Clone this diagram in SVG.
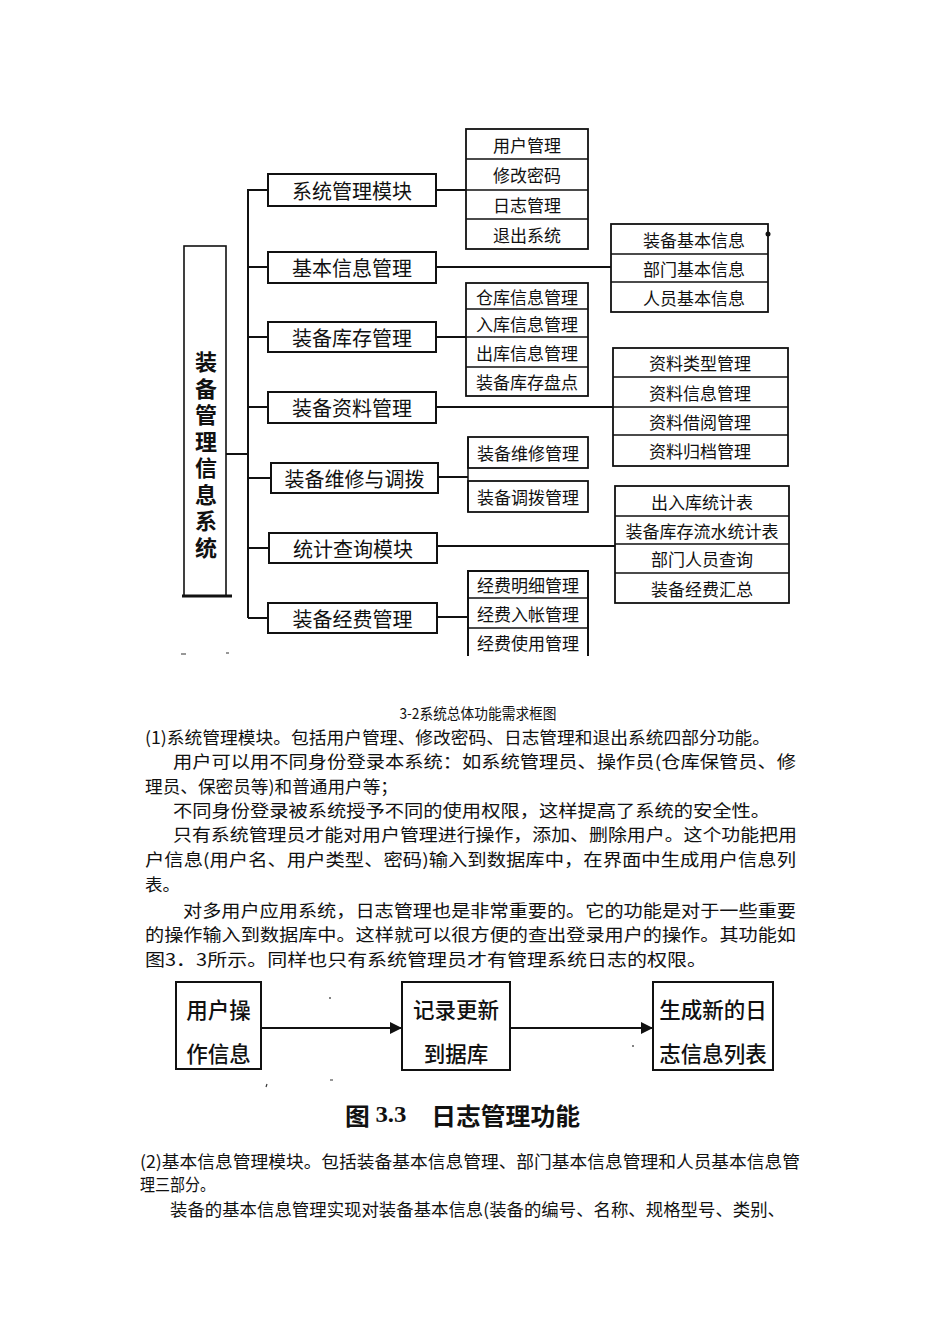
<svg xmlns="http://www.w3.org/2000/svg" width="950" height="1344" viewBox="0 0 950 1344">
<style>
text{font-family:"Noto Sans CJK SC","Noto Sans",sans-serif;fill:#111}
.box{fill:#fff;stroke:#111;stroke-width:2}
.cb{fill:#fff;stroke:#111;stroke-width:1.8}
.dv{stroke:#111;stroke-width:1.5}
.ln{fill:none;stroke:#111;stroke-width:2}
.m{font-size:20px;text-anchor:middle;dominant-baseline:central}
.c{font-size:17px;text-anchor:middle;dominant-baseline:central}
.p{font-size:17px;dominant-baseline:central}
.f{font-size:21.5px;font-weight:500;text-anchor:middle;dominant-baseline:central}
</style>
<defs>
<marker id="ah" markerWidth="12" markerHeight="12" refX="11" refY="6" orient="auto" markerUnits="userSpaceOnUse">
<path d="M0,0 L12,6 L0,12 Z" fill="#111"/>
</marker>
</defs>
<rect width="950" height="1344" fill="#fff"/>

<!-- Figure 3-2 -->
<g id="connectors">
<path class="ln" d="M226 454 H248 M248 189 V618 M248 190 H268 M248 267 H268 M248 337 H268 M248 407 H268 M248 478 H271 M248 548 H269 M248 618 H268"/>
<path class="ln" d="M436 190 H466 M436 267 H611 M436 337 H466 M436 407 H613 M438 477 H468 M437 546 H615 M437 617 H468"/>
</g>

<g id="root">
<rect x="184" y="246" width="42" height="350" fill="#fff" stroke="#111" stroke-width="1.6"/>
<path d="M182 596 H232" stroke="#111" stroke-width="3"/>
<text x="206" y="351" font-size="22" font-weight="bold" writing-mode="tb" letter-spacing="4.5">装备管理信息系统</text>
</g>

<g id="m1"><rect class="box" x="268" y="174" width="168" height="32"/><text class="m" x="352" y="190">系统管理模块</text></g>
<g id="m2"><rect class="box" x="268" y="252" width="168" height="31"/><text class="m" x="352" y="267.5">基本信息管理</text></g>
<g id="m3"><rect class="box" x="268" y="322" width="168" height="30"/><text class="m" x="352" y="337">装备库存管理</text></g>
<g id="m4"><rect class="box" x="268" y="392" width="168" height="31"/><text class="m" x="352" y="407.5">装备资料管理</text></g>
<g id="m5"><rect class="box" x="271" y="463" width="167" height="30"/><text class="m" x="354.5" y="478">装备维修与调拨</text></g>
<g id="m6"><rect class="box" x="269" y="533" width="168" height="30"/><text class="m" x="353" y="548">统计查询模块</text></g>
<g id="m7"><rect class="box" x="268" y="603" width="169" height="30"/><text class="m" x="352.5" y="618">装备经费管理</text></g>

<g id="c1">
<rect class="cb" x="466" y="129" width="122" height="120"/>
<path class="dv" d="M466 159 H588 M466 190 H588 M466 219 H588"/>
<text class="c" x="527" y="144">用户管理</text>
<text class="c" x="527" y="174.5">修改密码</text>
<text class="c" x="527" y="204.5">日志管理</text>
<text class="c" x="527" y="234">退出系统</text>
</g>
<g id="c2">
<rect class="cb" x="611" y="224" width="157" height="88"/>
<path class="dv" d="M611 254 H768 M611 282 H768"/>
<text class="c" x="694" y="239">装备基本信息</text>
<text class="c" x="694" y="268">部门基本信息</text>
<text class="c" x="694" y="297">人员基本信息</text>
<circle cx="768" cy="234" r="2.5" fill="#111"/>
</g>
<g id="c3">
<rect class="cb" x="466" y="283" width="122" height="113"/>
<path class="dv" d="M466 309 H588 M466 337 H588 M466 367 H588"/>
<text class="c" x="527" y="296">仓库信息管理</text>
<text class="c" x="527" y="323">入库信息管理</text>
<text class="c" x="527" y="352">出库信息管理</text>
<text class="c" x="527" y="381.5">装备库存盘点</text>
</g>
<g id="c4">
<rect class="cb" x="613" y="348" width="175" height="118"/>
<path class="dv" d="M613 377 H788 M613 407 H788 M613 435 H788"/>
<text class="c" x="700" y="362.5">资料类型管理</text>
<text class="c" x="700" y="392">资料信息管理</text>
<text class="c" x="700" y="421">资料借阅管理</text>
<text class="c" x="700" y="450.5">资料归档管理</text>
</g>
<g id="c5">
<rect class="cb" x="468" y="437" width="120" height="31"/>
<rect class="cb" x="468" y="481" width="120" height="31" stroke-width="2.2"/>
<path class="dv" d="M468 437 V512"/>
<text class="c" x="528" y="452.5">装备维修管理</text>
<text class="c" x="528" y="496.5">装备调拨管理</text>
</g>
<g id="c6">
<rect class="cb" x="615" y="486" width="174" height="117"/>
<path class="dv" d="M615 516 H789 M615 544 H789 M615 573 H789"/>
<text class="c" x="702" y="501">出入库统计表</text>
<text class="c" x="702" y="530">装备库存流水统计表</text>
<text class="c" x="702" y="558.5">部门人员查询</text>
<text class="c" x="702" y="588">装备经费汇总</text>
</g>
<g id="c7">
<path class="ln" d="M468 656 V571 H588 V656"/>
<path class="dv" d="M468 598 H588 M468 628 H588"/>
<text class="c" x="528" y="584.5">经费明细管理</text>
<text class="c" x="528" y="613">经费入帐管理</text>
<text class="c" x="528" y="642">经费使用管理</text>
</g>
<path d="M181 654 h5 M226 653 h3" stroke="#333" stroke-width="1.2"/>

<!-- Caption and body text -->
<text x="478" y="712" font-size="15" text-anchor="middle" dominant-baseline="central" textLength="157" lengthAdjust="spacingAndGlyphs">3-2系统总体功能需求框图</text>
<g id="body1">
<text class="p" x="145" y="736" textLength="625" lengthAdjust="spacingAndGlyphs">(1)系统管理模块。包括用户管理、修改密码、日志管理和退出系统四部分功能。</text>
<text class="p" x="173" y="760.5" textLength="623" lengthAdjust="spacingAndGlyphs">用户可以用不同身份登录本系统：如系统管理员、操作员(仓库保管员、修</text>
<text class="p" x="145" y="785" textLength="253" lengthAdjust="spacingAndGlyphs">理员、保密员等)和普通用户等；</text>
<text class="p" x="173" y="809" textLength="597" lengthAdjust="spacingAndGlyphs">不同身份登录被系统授予不同的使用权限，这样提高了系统的安全性。</text>
<text class="p" x="173" y="833.5" textLength="624" lengthAdjust="spacingAndGlyphs">只有系统管理员才能对用户管理进行操作，添加、删除用户。这个功能把用</text>
<text class="p" x="145" y="858" textLength="651" lengthAdjust="spacingAndGlyphs">户信息(用户名、用户类型、密码)输入到数据库中，在界面中生成用户信息列</text>
<text class="p" x="145" y="883" textLength="35" lengthAdjust="spacingAndGlyphs">表。</text>
<text class="p" x="183" y="909" textLength="613" lengthAdjust="spacingAndGlyphs">对多用户应用系统，日志管理也是非常重要的。它的功能是对于一些重要</text>
<text class="p" x="145" y="933.5" textLength="651" lengthAdjust="spacingAndGlyphs">的操作输入到数据库中。这样就可以很方便的查出登录用户的操作。其功能如</text>
<text class="p" x="145" y="958" textLength="562" lengthAdjust="spacingAndGlyphs">图3．3所示。同样也只有系统管理员才有管理系统日志的权限。</text>
</g>

<!-- Figure 3.3 -->
<g id="flow-connectors">
<path class="ln" d="M261 1028 H401" stroke-width="2.5" marker-end="url(#ah)"/>
<path class="ln" d="M510 1028 H652" stroke-width="2.5" marker-end="url(#ah)"/>
</g>
<g id="f1"><rect class="box" x="176" y="982" width="85" height="87" stroke-width="2.4"/><text class="f" x="218.5" y="1008">用户操</text><text class="f" x="218.5" y="1052">作信息</text></g>
<g id="f2"><rect class="box" x="402" y="982" width="108" height="88" stroke-width="2.4"/><text class="f" x="456" y="1008">记录更新</text><text class="f" x="456" y="1052">到据库</text></g>
<g id="f3"><rect class="box" x="653" y="982" width="120" height="88" stroke-width="2.4"/><text class="f" x="713" y="1008">生成新的日</text><text class="f" x="713" y="1052">志信息列表</text></g>
<path d="M330 997 v2 M267 1084 l-1 3 M330 1080 h3 M633 1045 v2" stroke="#333" stroke-width="1.2"/>
<text x="345" y="1114" font-size="24" font-weight="bold" dominant-baseline="central" textLength="235" lengthAdjust="spacingAndGlyphs">图 <tspan font-family="Liberation Serif">3.3</tspan>　日志管理功能</text>

<g id="body2">
<text class="p" x="140" y="1160" textLength="660" lengthAdjust="spacingAndGlyphs">(2)基本信息管理模块。包括装备基本信息管理、部门基本信息管理和人员基本信息管</text>
<text class="p" x="140" y="1183" textLength="75" lengthAdjust="spacingAndGlyphs">理三部分。</text>
<text class="p" x="170" y="1208" textLength="615" lengthAdjust="spacingAndGlyphs">装备的基本信息管理实现对装备基本信息(装备的编号、名称、规格型号、类别、</text>
</g>
</svg>
